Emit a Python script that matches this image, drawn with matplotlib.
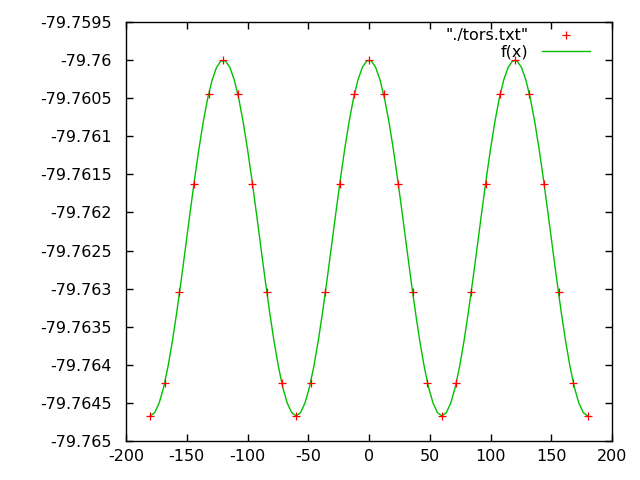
import numpy as np
import matplotlib
matplotlib.use('Agg')
import matplotlib.pyplot as plt

# torsion scan points (deg, energy)
angles = [-180, -168, -156, -144, -132, -120, -108, -96, -84, -72, -60,
          -48, -36, -24, -12, 0, 12, 24, 36, 48, 60,
          72, 84, 96, 108, 120, 132, 144, 156, 168, 180]
energies = [-79.76467, -79.76424, -79.76305, -79.76162, -79.76045, -79.76000,
            -79.76045, -79.76162, -79.76305, -79.76424, -79.76467,
            -79.76424, -79.76305, -79.76162, -79.76045, -79.76000,
            -79.76045, -79.76162, -79.76305, -79.76424, -79.76467,
            -79.76424, -79.76305, -79.76162, -79.76045, -79.76000,
            -79.76045, -79.76162, -79.76305, -79.76424, -79.76467]

# fitted function f(x) = a + b*cos(3x)
fit_a = -79.762335
fit_b = 0.002335

xticks = [-200, -150, -100, -50, 0, 50, 100, 150, 200]
yticks = [-79.765, -79.7645, -79.764, -79.7635, -79.763, -79.7625,
          -79.762, -79.7615, -79.761, -79.7605, -79.76, -79.7595]
ytick_labels = ['-79.765', '-79.7645', '-79.764', '-79.7635', '-79.763',
                '-79.7625', '-79.762', '-79.7615', '-79.761', '-79.7605',
                '-79.76', '-79.7595']

plt.rcParams['font.family'] = ['DejaVu Sans']
fs = 11.5

fig = plt.figure(figsize=(6.4, 4.8), dpi=100)
ax = fig.add_axes([126 / 640, 39 / 480, 486 / 640, 419 / 480])

# gnuplot samples functions at 100 points
xs = np.linspace(-180, 180, 100)
ax.plot(angles, energies, linestyle='none', marker='+', color='#ff0000',
        markersize=6, markeredgewidth=0.9, label='"./tors.txt"', zorder=3)
ax.plot(xs, fit_a + fit_b * np.cos(np.radians(3 * xs)), color='#00c000',
        lw=1.0, label='f(x)', zorder=2)

ax.set_xlim(-200, 200)
ax.set_ylim(-79.765, -79.7595)
ax.set_xticks(xticks)
ax.set_xticklabels([str(t) for t in xticks], fontsize=fs)
ax.set_yticks(yticks)
ax.set_yticklabels(ytick_labels, fontsize=fs)
ax.tick_params(axis='y', pad=10)
ax.tick_params(axis='x', pad=6)
ax.tick_params(direction='in', length=5, width=1, top=True, right=True,
               colors='black')
for sp in ax.spines.values():
    sp.set_linewidth(1)

ax.legend(loc='upper right', bbox_to_anchor=(0.982, 1.015), frameon=False,
          markerfirst=False, fontsize=fs, handlelength=3.05,
          handletextpad=0.85, labelspacing=0.08, borderpad=0.3)

fig.savefig('out.png', dpi=100)
